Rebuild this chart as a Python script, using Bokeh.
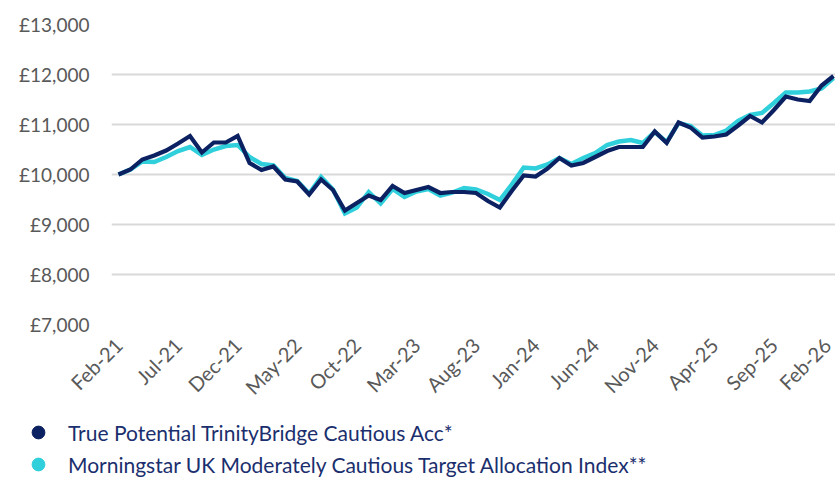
from bokeh.plotting import figure
from bokeh.models import Range1d, FixedTicker, Legend, LegendItem, ColumnDataSource
from bokeh.layouts import column
from bokeh.embed import file_html
from bokeh.resources import INLINE
import math

# ---- data ----
month_index = list(range(61))  # Feb-21 .. Feb-26 monthly
tick_positions = [0, 5, 10, 15, 20, 25, 30, 35, 40, 45, 50, 55, 60]
tick_labels = ["Feb-21", "Jul-21", "Dec-21", "May-22", "Oct-22", "Mar-23", "Aug-23",
               "Jan-24", "Jun-24", "Nov-24", "Apr-25", "Sep-25", "Feb-26"]

fund = [10000, 10100, 10300, 10380, 10480, 10620, 10770, 10440, 10640, 10640,
        10770, 10230, 10090, 10160, 9900, 9860, 9600, 9900, 9690, 9280,
        9430, 9580, 9490, 9770, 9630, 9690, 9750, 9630, 9650, 9650,
        9630, 9470, 9340, 9670, 9980, 9960, 10120, 10330, 10180, 10230,
        10350, 10470, 10550, 10550, 10550, 10860, 10630, 11040, 10940, 10740,
        10760, 10800, 10980, 11170, 11040, 11290, 11560, 11500, 11470, 11780,
        11970]

index = [10000, 10100, 10260, 10250, 10350, 10470, 10550, 10390, 10500, 10570,
         10590, 10350, 10210, 10180, 9930, 9870, 9620, 9950, 9700, 9220,
         9340, 9650, 9420, 9710, 9550, 9660, 9710, 9580, 9640, 9730,
         9700, 9610, 9490, 9800, 10140, 10120, 10200, 10330, 10210, 10330,
         10430, 10590, 10660, 10690, 10630, 10850, 10650, 11030, 10970, 10780,
         10790, 10880, 11070, 11190, 11230, 11430, 11640, 11640, 11660, 11720,
         11930]

y_ticks = [7000, 8000, 9000, 10000, 11000, 12000, 13000]
y_tick_labels = ["£7,000", "£8,000", "£9,000", "£10,000", "£11,000", "£12,000", "£13,000"]

series_names = ["True Potential TrinityBridge Cautious Acc*",
                "Morningstar UK Moderately Cautious Target Allocation Index**"]

NAVY = "#0b2161"
CYAN = "#2fcfdc"
FONT = "Lato"

p = figure(width=835, height=410, output_backend="svg", toolbar_location=None,
           x_range=Range1d(-0.587, 60.168), y_range=Range1d(7000, 13000),
           min_border_left=111, min_border_right=0, min_border_top=24,
           min_border_bottom=79)
p.outline_line_color = None
p.background_fill_color = "white"
p.border_fill_color = "white"
p.frame_align = False

src = ColumnDataSource(dict(x=month_index, fund=fund, index=index))

p.line("x", "index", source=src, line_color=CYAN, line_width=4.5, line_join="miter")
p.line("x", "fund", source=src, line_color=NAVY, line_width=4.2, line_join="miter")

# axes
p.xaxis.ticker = FixedTicker(ticks=tick_positions)
p.xaxis.major_label_overrides = {t: l for t, l in zip(tick_positions, tick_labels)}
p.xaxis.major_label_orientation = math.pi / 4
p.xaxis.axis_line_color = None
p.xaxis.major_tick_line_color = None
p.xaxis.minor_tick_line_color = None
p.xaxis.major_label_text_font = FONT
p.xaxis.major_label_text_font_size = "20px"
p.xaxis.major_label_text_color = "#595959"
p.xaxis.major_label_standoff = 11

p.yaxis.ticker = FixedTicker(ticks=y_ticks)
p.yaxis.major_label_overrides = {t: l for t, l in zip(y_ticks, y_tick_labels)}
p.yaxis.axis_line_color = None
p.yaxis.major_tick_line_color = None
p.yaxis.minor_tick_line_color = None
p.yaxis.major_label_text_font = FONT
p.yaxis.major_label_text_font_size = "19px"
p.yaxis.major_label_text_color = "#595959"
p.yaxis.major_label_standoff = 16

p.xgrid.grid_line_color = None
p.ygrid.grid_line_color = "#d9d9d9"
p.ygrid.grid_line_width = 2

# ---- legend figure ----
lf = figure(width=835, height=70, output_backend="svg", toolbar_location=None,
            x_range=Range1d(0, 1), y_range=Range1d(0, 1),
            x_axis_type=None, y_axis_type=None,
            min_border_left=0, min_border_right=0, min_border_top=0, min_border_bottom=0)
lf.grid.visible = False
lf.outline_line_color = None
lf.border_fill_color = "white"
lf.frame_align = False

d1 = lf.scatter(x=[math.nan], y=[math.nan], marker="circle", size=15,
                fill_color=NAVY, line_color=NAVY)
d2 = lf.scatter(x=[math.nan], y=[math.nan], marker="circle", size=15,
                fill_color=CYAN, line_color=CYAN)

legend = Legend(items=[LegendItem(label=series_names[0], renderers=[d1]),
                       LegendItem(label=series_names[1], renderers=[d2])],
                location=(22, 0), orientation="vertical",
                padding=0, margin=0, spacing=-4,
                glyph_width=32, glyph_height=32, label_height=28,
                label_standoff=14,
                label_text_font=FONT, label_text_font_size="21px",
                label_text_color="#1b2f6e",
                border_line_color=None, background_fill_alpha=0)
lf.add_layout(legend, "center")

layout = column(p, lf, spacing=0)
open("out.html", "w").write(file_html(layout, INLINE))
